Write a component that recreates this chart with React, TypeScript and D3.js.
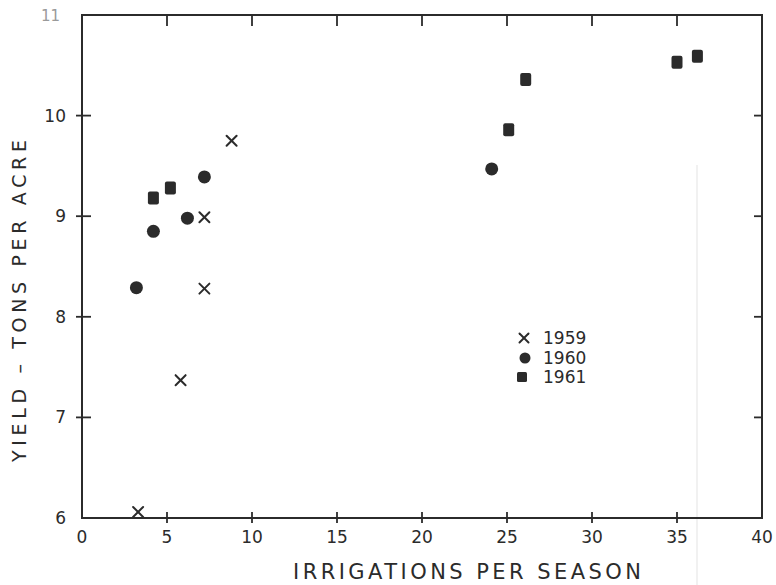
import React from "react";
import * as d3 from "d3";

// Yield (tons per acre) against number of irrigations per season
const x1959 = [3.3, 5.8, 7.2, 7.2, 8.8];
const y1959 = [6.06, 7.37, 8.28, 8.99, 9.75];
const x1960 = [3.2, 4.2, 6.2, 7.2, 24.1];
const y1960 = [8.29, 8.85, 8.98, 9.39, 9.47];
const x1961 = [4.2, 5.2, 25.1, 26.1, 35.0, 36.2];
const y1961 = [9.18, 9.28, 9.86, 10.36, 10.53, 10.59];

const xTicks = [0, 5, 10, 15, 20, 25, 30, 35, 40];
const yTicks = [6, 7, 8, 9, 10, 11];
const legendLabels = ["1959", "1960", "1961"];

const W = 776;
const H = 585;
const INK = "#2b2b2b";
const FONT = "'DejaVu Sans', sans-serif";

const x = d3.scaleLinear().domain([0, 40]).range([82, 762]);
const y = d3.scaleLinear().domain([6, 11]).range([518, 15]);

function Cross({ cx, cy, s = 5 }: { cx: number; cy: number; s?: number }) {
  return (
    <g stroke={INK} strokeWidth={2} strokeLinecap="round">
      <line x1={cx - s} y1={cy - s} x2={cx + s} y2={cy + s} />
      <line x1={cx - s} y1={cy + s} x2={cx + s} y2={cy - s} />
    </g>
  );
}

function Dot({ cx, cy }: { cx: number; cy: number }) {
  return <circle cx={cx} cy={cy} r={6.5} fill={INK} />;
}

function Square({ cx, cy }: { cx: number; cy: number }) {
  return <rect x={cx - 5.5} y={cy - 6.5} width={11} height={13} rx={2} fill={INK} />;
}

export default function App() {
  const [x0, x1] = x.range();
  const [yb, yt] = y.range();
  const legendX = 524;
  const legendY = [338, 358, 377];

  return (
    <svg width={W} height={H} style={{ position: "absolute", left: 0, top: 0, background: "#fff" }}>
      <rect width={W} height={H} fill="#fff" />
      {/* faint scan line */}
      <line x1={697} y1={165} x2={697} y2={H} stroke="#ececec" strokeWidth={1.5} />

      {/* frame */}
      <rect x={x0} y={yt} width={x1 - x0} height={yb - yt} fill="none" stroke={INK} strokeWidth={2} />

      {/* x ticks: bottom crossing, top inward */}
      {xTicks.slice(1, -1).map((t) => (
        <g key={"xt" + t} stroke={INK} strokeWidth={1.8}>
          <line x1={x(t)} x2={x(t)} y1={yb - 6} y2={yb + 5} />
          <line x1={x(t)} x2={x(t)} y1={yt} y2={yt + 11} />
        </g>
      ))}
      {xTicks.map((t) => (
        <text key={"xl" + t} x={x(t)} y={yb + 25} textAnchor="middle" fontFamily={FONT} fontSize={17} fill={INK}>
          {t}
        </text>
      ))}

      {/* y ticks: left crossing, right inward */}
      {yTicks.slice(1, -1).map((t) => (
        <g key={"yt" + t} stroke={INK} strokeWidth={1.8}>
          <line x1={x0 - 6} x2={x0 + 9} y1={y(t)} y2={y(t)} />
          <line x1={x1 - 8} x2={x1} y1={y(t)} y2={y(t)} />
        </g>
      ))}
      {yTicks.map((t) => (
        <text
          key={"yl" + t}
          x={t === 11 ? 60 : 66}
          y={y(t) + 6}
          textAnchor="end"
          fontFamily={FONT}
          fontSize={t === 11 ? 15 : 17}
          fill={t === 11 ? "#9a9a9a" : INK}
        >
          {t}
        </text>
      ))}

      {/* axis titles */}
      <text x={293} y={579} fontFamily={FONT} fontSize={21} fill={INK} textLength={348} lengthAdjust="spacing">
        IRRIGATIONS PER SEASON
      </text>
      <text
        transform={`translate(26, 301) rotate(-90)`}
        textAnchor="middle"
        fontFamily={FONT}
        fontSize={19}
        fill={INK}
        textLength={322}
        lengthAdjust="spacing"
      >
        YIELD – TONS PER ACRE
      </text>

      {/* points */}
      {x1959.map((v, i) => (
        <Cross key={"a" + i} cx={x(v)} cy={y(y1959[i])} />
      ))}
      {x1960.map((v, i) => (
        <Dot key={"b" + i} cx={x(v)} cy={y(y1960[i])} />
      ))}
      {x1961.map((v, i) => (
        <Square key={"c" + i} cx={x(v)} cy={y(y1961[i])} />
      ))}

      {/* legend */}
      <Cross cx={legendX} cy={legendY[0]} s={4.5} />
      <circle cx={legendX + 1} cy={legendY[1]} r={5.5} fill={INK} />
      <rect x={legendX - 7} y={legendY[2] - 5} width={10} height={10} rx={1.5} fill={INK} />
      {legendLabels.map((l, i) => (
        <text key={l} x={543} y={legendY[i] + 6} fontFamily={FONT} fontSize={17} fill={INK}>
          {l}
        </text>
      ))}
    </svg>
  );
}
